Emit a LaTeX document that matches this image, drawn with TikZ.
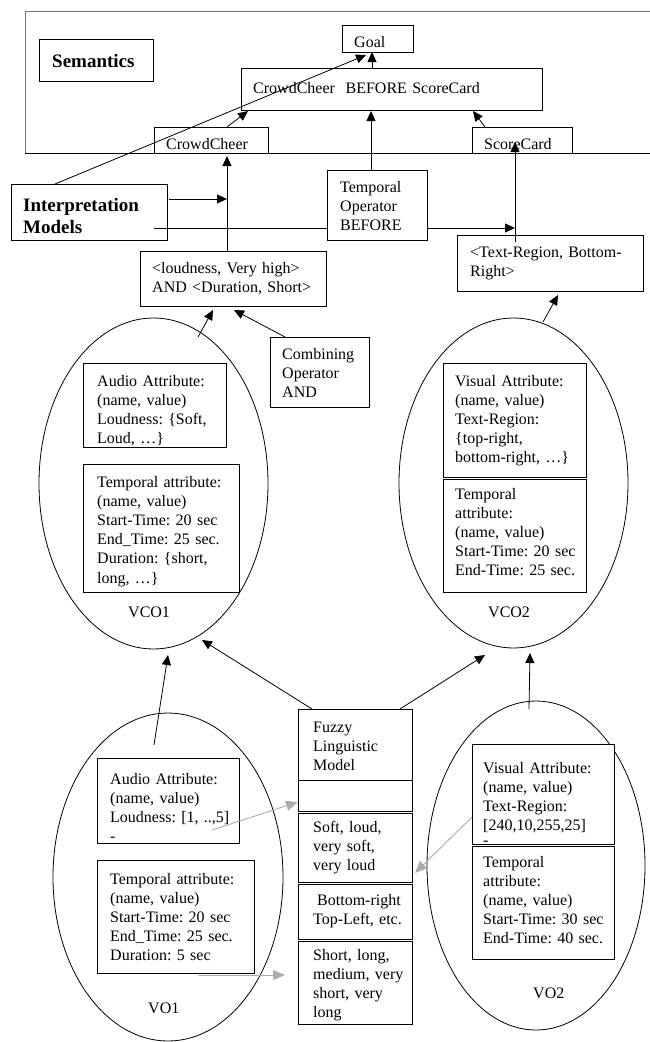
\documentclass[tikz,border=0pt]{standalone}
\usepackage{fontspec}
\setmainfont{Liberation Serif}
\usetikzlibrary{arrows.meta,shapes.geometric,calc}
\frenchspacing
\begin{document}
\begin{tikzpicture}[x=1pt,y=-1pt,
  box/.style={draw=black, line width=0.8pt, fill=white, inner sep=0pt, outer sep=0pt, anchor=north west},
  oval/.style={draw=black, ellipse, line width=0.8pt, inner sep=0pt, outer sep=0pt},
  txt/.style={anchor=base west, inner sep=0pt, align=left, text width=300pt, font=\fontsize{16}{19.2}\selectfont\frenchspacing},
  btxt/.style={txt, font=\fontsize{19}{22}\selectfont\bfseries\frenchspacing},
  link/.style={line width=0.8pt},
  arr/.style={line width=0.8pt, -{Triangle[length=10pt,width=9pt]}},
  garr/.style={line width=0.9pt, draw=black!32, -{Triangle[length=12pt,width=10pt]}},
]
\useasboundingbox (0,0) rectangle (650,1042);
\fill[white] (0,0) rectangle (650,1042);

% ---------- semantics layer ----------
\node[box, draw=black!55, minimum width=640pt, minimum height=142pt] (frame) at (25,11) {};
\node[box, minimum width=114pt, minimum height=42pt] (sem) at (39,39) {};
\node[btxt] (sem-t) at (52,67) {Semantics};
\node[box, minimum width=71pt, minimum height=27pt] (goal) at (342,25) {};
\node[txt] (goal-t) at (354,47) {Goal};
\node[box, minimum width=301pt, minimum height=42pt] (cwb) at (241,68) {};
\node[txt] (cwb-t) at (253,93) {CrowdCheer\ \ BEFORE ScoreCard};
\node[box, minimum width=114pt, minimum height=26pt] (cc) at (154,127) {};
\node[txt] (cc-t) at (166,149) {CrowdCheer};
\node[box, minimum width=100pt, minimum height=26pt] (sc) at (472,127) {};
\node[txt] (sc-t) at (484,149) {ScoreCard};
\draw[link] (frame.south west) -- (frame.south east);

% ---------- interpretation layer ----------
\node[box, minimum width=156pt, minimum height=56pt] (interp) at (11,184) {};
\node[btxt] (interp-t) at (23,211) {Interpretation\\Models};
\node[box, minimum width=100pt, minimum height=70pt] (tempop) at (327,170) {};
\node[txt] (tempop-t) at (340,192) {Temporal\\Operator\\BEFORE};
\node[box, minimum width=186pt, minimum height=55pt] (loud) at (140,251) {};
\node[txt] (loud-t) at (152,273) {<loudness, Very high>\\AND <Duration, Short>};
\node[box, minimum width=186pt, minimum height=56pt] (txr) at (457,235) {};
\node[txt] (txr-t) at (470,257) {<Text-Region, Bottom-\\Right>};
\node[box, minimum width=99pt, minimum height=70pt] (comb) at (270,337) {};
\node[txt] (comb-t) at (282,359) {Combining\\Operator\\AND};

% ---------- VCO1 ----------
\node[oval, minimum width=229pt, minimum height=331pt] (vco1) at (153.5,483.5) {};
\node[box, minimum width=143pt, minimum height=84pt] (vco1a) at (83,363) {};
\node[txt] (vco1a-t) at (97,386) {Audio Attribute:\\(name, value)\\Loudness: \{Soft,\\Loud, …\}};
\node[box, minimum width=156pt, minimum height=128pt] (vco1t) at (83,464) {};
\node[txt] (vco1t-t) at (97,487) {Temporal attribute:\\(name, value)\\Start-Time: 20 sec\\End\_Time: 25 sec.\\Duration: \{short,\\long, …\}};
\node[txt] (vco1-l) at (128,617) {VCO1};

% ---------- VCO2 ----------
\node[oval, minimum width=229pt, minimum height=330pt] (vco2) at (513.5,483) {};
\node[box, minimum width=143pt, minimum height=114pt] (vco2a) at (443,363) {};
\node[txt] (vco2a-t) at (455,386) {Visual Attribute:\\(name, value)\\Text-Region:\\\{top-right,\\bottom-right, …\}};
\node[box, minimum width=143pt, minimum height=113pt] (vco2t) at (443,479) {};
\node[txt] (vco2t-t) at (455,499) {Temporal\\attribute:\\(name, value)\\Start-Time: 20 sec\\End-Time: 25 sec.};
\node[txt] (vco2-l) at (488,617) {VCO2};

% ---------- VO1 ----------
\node[oval, minimum width=230pt, minimum height=328pt] (vo1) at (168,877) {};
\node[box, minimum width=142pt, minimum height=85pt] (vo1a) at (97,758) {};
\node[txt] (vo1a-t) at (110,784) {Audio Attribute:\\(name, value)\\Loudness: [1, ..,5]\\-};
\node[box, minimum width=157pt, minimum height=113pt] (vo1t) at (97,860) {};
\node[txt] (vo1t-t) at (110,884) {Temporal attribute:\\(name, value)\\Start-Time: 20 sec\\End\_Time: 25 sec.\\Duration: 5 sec};
\node[txt] (vo1-l) at (148,1013) {VO1};

% ---------- VO2 ----------
\node[oval, minimum width=218pt, minimum height=329pt] (vo2) at (536,865.5) {};
\node[box, minimum width=142pt, minimum height=100pt] (vo2a) at (472,744) {};
\node[txt] (vo2a-t) at (483,773) {Visual Attribute:\\(name, value)\\Text-Region:\\{[240,10,255,25]}\\[-4pt]-};
\node[box, minimum width=142pt, minimum height=113pt] (vo2t) at (472,846) {};
\node[txt] (vo2t-t) at (483,867) {Temporal\\attribute:\\(name, value)\\Start-Time: 30 sec\\End-Time: 40 sec.};
\node[txt] (vo2-l) at (533,998) {VO2};

% ---------- fuzzy linguistic model ----------
\node[box, minimum width=114pt, minimum height=102pt] (fz1) at (298,709) {};
\draw[link] ($(fz1.north west)+(0,71)$) -- ($(fz1.north east)+(0,71)$);
\node[txt] (fz1-t) at (313,732) {Fuzzy\\Linguistic\\Model};
\node[box, minimum width=114pt, minimum height=69pt] (fz2) at (298,813) {};
\node[txt] (fz2-t) at (313,832) {Soft, loud,\\very soft,\\very loud};
\node[box, minimum width=114pt, minimum height=55pt] (fz3) at (298,884) {};
\node[txt] (fz3-t) at (313,905) {\hspace{4pt}Bottom-right\\Top-Left, etc.};
\node[box, minimum width=114pt, minimum height=83pt] (fz4) at (298,941) {};
\node[txt] (fz4-t) at (313,960) {Short, long,\\medium, very\\short, very\\long};

% ---------- connectors ----------
\draw[arr] ($(interp.north west)+(44,0)$) -- ($(goal.south west)+(24,3)$);
\draw[arr] ($(cwb.north west)+(131,0)$) -- ($(goal.south west)+(30,0)$);
\draw[arr] ($(cc.north west)+(73,0)$) -- ($(cwb.south west)+(7,1)$);
\draw[arr] ($(sc.north west)+(13,0)$) -- ($(cwb.south west)+(232,1)$);
\draw[arr] ($(tempop.north west)+(44,0)$) -- ($(cwb.south west)+(130,1)$);
\draw[arr] ($(loud.north west)+(87,0)$) -- ($(cc.south west)+(73,3)$);
\draw[arr] ($(interp.north east)+(2,15)$) -- ($(loud.north west)+(87,-52)$);
\draw[link] ($(interp.north east)+(-13,44)$) -- ($(tempop.north west)+(0,58)$);
\draw[arr] ($(tempop.north east)+(0,58)$) -- ($(txr.north west)+(58,-7)$);
\draw[arr] ($(txr.north west)+(58,7)$) -- ($(sc.north west)+(43,15)$);
\draw[arr] ($(vco1.center)+(44.5,-146.5)$) -- ($(loud.south west)+(73,4)$);
\draw[arr] ($(comb.north west)+(15,0)$) -- ($(loud.south west)+(94,4)$);
\draw[arr] ($(vco2.center)+(29.5,-161)$) -- ($(txr.south west)+(101,4)$);
\draw[arr] ($(vo1.center)+(-14,-132)$) -- ($(vco1.south)+(14.5,6)$);
\draw[arr] ($(fz1.north west)+(14,0)$) -- ($(vco1.center)+(48.5,156.5)$);
\draw[arr] ($(fz1.north west)+(102,0)$) -- ($(vco2.center)+(-28.5,172)$);
\draw[arr] ($(vo2.center)+(-7,-156.5)$) -- ($(vco2.south)+(16.5,5)$);
\draw[garr] ($(vo1a.north west)+(115,72)$) -- ($(fz1.south west)+(0,-9)$);
\draw[garr] ($(vo1t.south west)+(101,2)$) -- ($(fz4.north west)+(-13,34)$);
\draw[garr] ($(vo2a.north west)+(0,73)$) -- ($(fz2.north east)+(3,60)$);
\end{tikzpicture}
\end{document}
